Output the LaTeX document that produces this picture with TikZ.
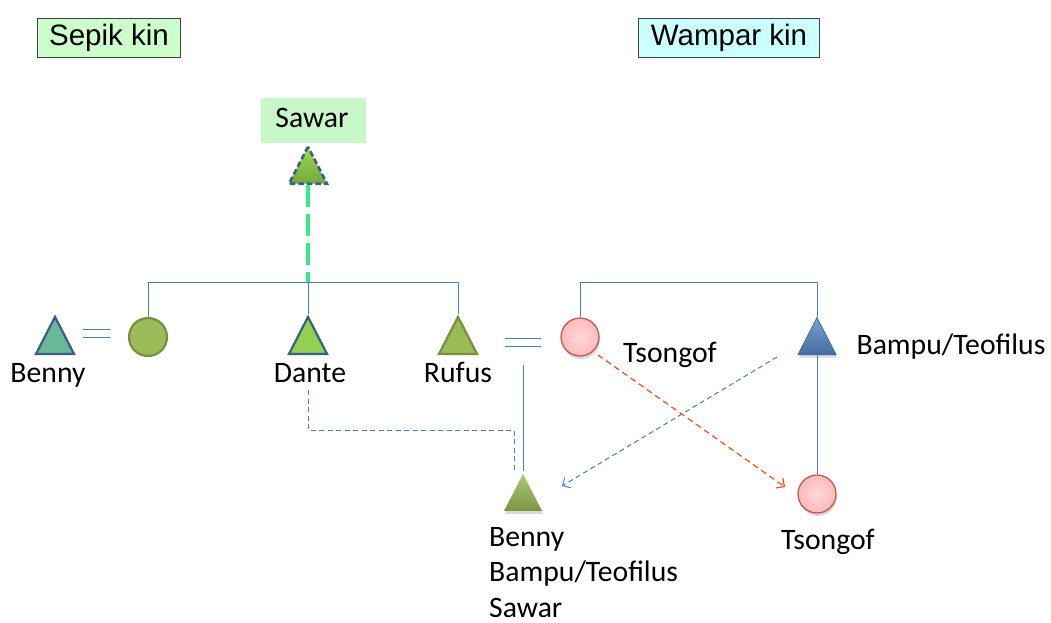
\documentclass[tikz,border=0pt]{standalone}
\usepackage{fontspec}
\setmainfont{Carlito}
\newfontfamily\hdfont{Liberation Sans}
\usetikzlibrary{shapes.geometric,shadows,arrows.meta,calc}
\definecolor{kinline}{HTML}{4A7EBB}
\definecolor{navyedge}{HTML}{3A5E8C}
\definecolor{olivefill}{HTML}{9BBB59}
\definecolor{oliveedge}{HTML}{76923C}
\definecolor{limefill}{HTML}{92D050}
\definecolor{limetop}{HTML}{9EDA52}
\definecolor{limebottom}{HTML}{72A83A}
\definecolor{tealfill}{HTML}{6BB896}
\definecolor{pinkfill}{HTML}{FFB9B9}
\definecolor{pinkedge}{HTML}{C0504D}
\definecolor{bluefill}{HTML}{4F81BD}
\definecolor{bluedge}{HTML}{3A6AA6}
\definecolor{sepikbg}{HTML}{CCFFCC}
\definecolor{wamparbg}{HTML}{CCFFFF}
\definecolor{sawarbg}{HTML}{C8F7C8}
\definecolor{sawarline}{HTML}{33EE88}
\definecolor{redarrow}{HTML}{FF4A1C}
\definecolor{bluearrow}{HTML}{4A7EC8}
\begin{document}
\begin{tikzpicture}[x=1pt,y=-1pt,
  font=\fontsize{29.7}{36}\selectfont,
  kin/.style={draw=kinline,line width=1pt},
  tri/.style={isosceles triangle,shape border rotate=90,isosceles triangle stretches,
    minimum width=38pt,minimum height=37pt,inner sep=0pt,line width=2.2pt},
  fem/.style={circle,minimum size=38pt,inner sep=0pt,line width=2.2pt},
  soft/.style={drop shadow={opacity=0.3,shadow xshift=1pt,shadow yshift=-3pt}},
  header/.style={draw=black!75,line width=1.2pt,inner xsep=12pt,inner ysep=6pt,
    font=\hdfont\fontsize{29.5}{35}\selectfont},
  lbl/.style={anchor=base,inner sep=0pt},
  dashblue/.style={draw=bluearrow,line width=1pt,dash pattern=on 5pt off 3.5pt},
  arrowtip/.style={-{Straight Barb[length=6pt,width=12pt]}}]
\useasboundingbox (0,0) rectangle (1051,622);

% group headings
\node[header,fill=sepikbg] (sepik) at (109,38) {Sepik kin};
\node[header,fill=wamparbg] (wampar) at (729,38) {Wampar kin};

% Sawar, the ancestor shown above Dante
\node[fill=sawarbg,minimum width=105pt,minimum height=45pt,inner sep=0pt] (sawarbox) at (313,120) {};
\node[lbl] (sawarlbl) at (312,127) {Sawar};
\node[tri,anchor=lower side,draw=navyedge,dash pattern=on 5.5pt off 3pt,line width=2.6pt,
  top color=limetop,bottom color=limebottom] (sawar) at (308,185) {};

% Sepik siblings
\node[tri,anchor=lower side,draw=navyedge,fill=tealfill] (benny) at (55,355) {};
\node[fem,draw=oliveedge,fill=olivefill] (sister) at (148,337) {};
\node[tri,anchor=lower side,draw=navyedge,fill=limefill] (dante) at (308,355) {};
\node[tri,anchor=lower side,draw=oliveedge,fill=olivefill] (rufus) at (458,355) {};
\node[lbl] (bennylbl) at (48,382) {Benny};
\node[lbl] (dantelbl) at (310,382) {Dante};
\node[lbl] (rufuslbl) at (458,382) {Rufus};

% Wampar side
\node[fem,soft,draw=pinkedge,line width=1.2pt,inner color=pinkfill!55!white,outer color=pinkfill] (tsA) at (580,337) {};
\node[lbl] (tsAlbl) at (670,362) {Tsongof};
\node[tri,soft,anchor=lower side,draw=bluedge,line width=0.8pt,
  top color=bluefill!75!white,bottom color=bluefill!85!black] (bampu) at (817,355) {};
\node[lbl] (bampulbl) at (951,354) {Bampu/Teofilus};
\node[fem,soft,draw=pinkedge,line width=1.2pt,inner color=pinkfill!55!white,outer color=pinkfill] (tsB) at (817,494) {};
\node[lbl] (tsBlbl) at (828,549) {Tsongof};

% child of Rufus and Tsongof
\node[tri,soft,anchor=lower side,draw=none,top color=olivefill!80!white,bottom color=oliveedge!90!olivefill] (child) at (523,512) {};
\node[anchor=north west,align=left,inner sep=0pt] (childlbl) at (489,527)
  {Benny\\[-0.5pt]Bampu/Teofilus\\[-0.5pt]Sawar};

% sibling bars
\coordinate (sbar) at (308,282);
\coordinate (wbar) at (700,282);
\draw[kin] (sister.north) -- (sister.north |- sbar) -- (rufus.apex |- sbar) -- (rufus.apex);
\draw[kin] (dante.apex) -- (dante.apex |- sbar);
\draw[kin] (tsA.north) -- (tsA.north |- wbar) -- (bampu.apex |- wbar) -- (bampu.apex);
\draw[kin] (bampu.lower side) -- (tsB.north);

% Sawar link
\draw[draw=sawarline,line width=3.6pt,dash pattern=on 22pt off 7pt] (sawar.lower side) -- (dante.apex |- sbar);

% marriage signs
\coordinate (eqA) at (96.5,333);
\coordinate (eqB) at (523,342);
\draw[kin] ($(eqA)+(-13.5,-4)$) -- ($(eqA)+(13.5,-4)$);
\draw[kin] ($(eqA)+(-13.5,4)$) -- ($(eqA)+(13.5,4)$);
\draw[kin] ($(eqB)+(-18,-4)$) -- ($(eqB)+(18,-4)$);
\draw[kin] ($(eqB)+(-18,4)$) -- ($(eqB)+(18,4)$);
\coordinate (descent) at (523,365);
\draw[kin] (descent) -- (child.apex);

% naming links
\coordinate (danteturn) at (514,430);
\draw[dashblue] ($(dantelbl.south)+(-2,8)$) |- (danteturn) -- ($(child.apex)+(-9,0)$);
\coordinate (redtip) at (785,487);
\draw[draw=redarrow,line width=1.2pt,dash pattern=on 6pt off 4pt,arrowtip] ($(tsA.south east)+(4,4)$) -- (redtip);
\coordinate (bluestart) at (777,357);
\coordinate (bluetip) at (562,486);
\draw[dashblue,arrowtip] (bluestart) -- (bluetip);
\end{tikzpicture}
\end{document}
